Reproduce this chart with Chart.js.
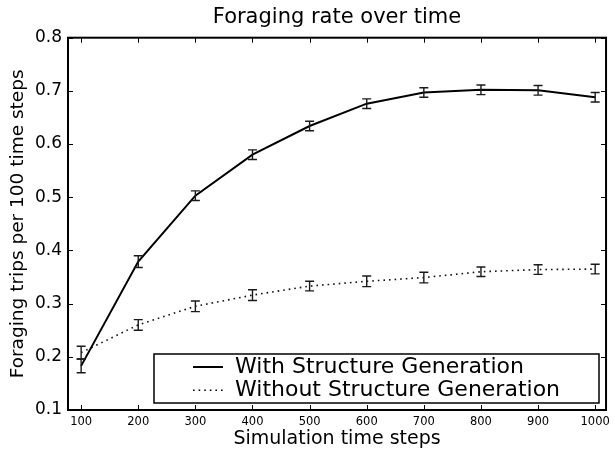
<!DOCTYPE html>
<html>
<head>
<meta charset="utf-8">
<script src="https://cdn.jsdelivr.net/npm/chart.js@4/dist/chart.umd.min.js"></script>
<style>
html,body{margin:0;padding:0;background:#fff;}
#c{display:block;}
</style>
</head>
<body>
<canvas id="c" width="615" height="454"></canvas>
<script>
const timeSteps = [100, 200, 300, 400, 500, 600, 700, 800, 900, 1000];
const withStructure = [0.183, 0.379, 0.503, 0.580, 0.634, 0.676, 0.697, 0.702, 0.701, 0.688];
const withStructureErr = [0.013, 0.011, 0.009, 0.009, 0.009, 0.009, 0.009, 0.009, 0.009, 0.009];
const withoutStructure = [0.208, 0.260, 0.295, 0.316, 0.333, 0.342, 0.349, 0.360, 0.364, 0.365];
const withoutStructureErr = [0.012, 0.010, 0.010, 0.010, 0.009, 0.010, 0.010, 0.009, 0.009, 0.009];
const xTicks = [100, 200, 300, 400, 500, 600, 700, 800, 900, 1000];
const yTicks = [0.1, 0.2, 0.3, 0.4, 0.5, 0.6, 0.7, 0.8];
const seriesLabels = ['With Structure Generation', 'Without Structure Generation'];
const chartTitle = 'Foraging rate over time';
const xTitle = 'Simulation time steps';
const yTitle = 'Foraging trips per 100 time steps';

const FONT = 'DejaVu Sans';

const errorBars = {
  id: 'errorBars',
  afterDatasetsDraw(chart) {
    const ctx = chart.ctx;
    const xs = chart.scales.x, ys = chart.scales.y;
    ctx.save();
    ctx.strokeStyle = '#1a1a1a';
    ctx.lineWidth = 1.4;
    chart.data.datasets.forEach(ds => {
      ds.data.forEach((p, i) => {
        const e = ds.errors[i];
        const x = xs.getPixelForValue(p.x);
        const y1 = ys.getPixelForValue(p.y + e);
        const y2 = ys.getPixelForValue(p.y - e);
        ctx.beginPath();
        ctx.moveTo(x, y1); ctx.lineTo(x, y2);
        ctx.moveTo(x - 4.5, y1); ctx.lineTo(x + 4.5, y1);
        ctx.moveTo(x - 4.5, y2); ctx.lineTo(x + 4.5, y2);
        ctx.stroke();
      });
    });
    ctx.restore();
  }
};

const frameAndTicks = {
  id: 'frameAndTicks',
  afterDraw(chart) {
    const ctx = chart.ctx;
    const a = chart.chartArea;
    const xs = chart.scales.x, ys = chart.scales.y;
    ctx.save();
    ctx.strokeStyle = '#000';
    ctx.lineWidth = 1;
    ctx.beginPath();
    xs.ticks.forEach(t => {
      const x = Math.round(xs.getPixelForValue(t.value)) + 0.5;
      ctx.moveTo(x, a.bottom); ctx.lineTo(x, a.bottom - 5);
      ctx.moveTo(x, a.top); ctx.lineTo(x, a.top + 5);
    });
    ys.ticks.forEach(t => {
      const y = Math.round(ys.getPixelForValue(t.value)) + 0.5;
      ctx.moveTo(a.left, y); ctx.lineTo(a.left + 5, y);
      ctx.moveTo(a.right, y); ctx.lineTo(a.right - 5, y);
    });
    ctx.stroke();
    ctx.lineWidth = 2;
    ctx.strokeRect(a.left, a.top, a.right - a.left, a.bottom - a.top);

    // legend
    const bx = a.left + 86, by = a.bottom - 56, bw = 445, bh = 49;
    ctx.fillStyle = '#fff';
    ctx.fillRect(bx, by, bw, bh);
    ctx.lineWidth = 1.5;
    ctx.strokeStyle = '#000';
    ctx.strokeRect(bx, by, bw, bh);
    ctx.font = '22px "' + FONT + '"';
    ctx.textBaseline = 'middle';
    ctx.fillStyle = '#000';
    chart.data.datasets.forEach((ds, i) => {
      const cy = by + 13 + i * 23.3;
      ctx.save();
      ctx.lineWidth = ds.borderWidth;
      ctx.setLineDash(ds.borderDash || []);
      ctx.beginPath();
      ctx.moveTo(bx + 39, cy); ctx.lineTo(bx + 69, cy);
      ctx.stroke();
      ctx.restore();
      ctx.fillText(ds.label, bx + 81, cy);
    });
    ctx.restore();
  }
};

const toPts = (vals) => vals.map((v, i) => ({ x: timeSteps[i], y: v }));

new Chart(document.getElementById('c'), {
  type: 'line',
  data: {
    datasets: [
      {
        label: seriesLabels[0],
        data: toPts(withStructure),
        errors: withStructureErr,
        borderColor: '#000',
        borderWidth: 2,
        pointRadius: 0,
        tension: 0,
        fill: false
      },
      {
        label: seriesLabels[1],
        data: toPts(withoutStructure),
        errors: withoutStructureErr,
        borderColor: '#111',
        borderWidth: 1.6,
        borderDash: [1.6, 4],
        pointRadius: 0,
        tension: 0,
        fill: false
      }
    ]
  },
  options: {
    responsive: false,
    devicePixelRatio: 1,
    animation: false,
    events: [],
    layout: { padding: { left: 0, right: 6, top: 0, bottom: 0 } },
    plugins: {
      legend: { display: false },
      tooltip: { enabled: false },
      title: {
        display: true,
        text: chartTitle,
        fullSize: false,
        color: '#000',
        font: { family: FONT, size: 21, weight: 'normal', lineHeight: 1.2 },
        padding: { top: 5, bottom: 7.5 }
      }
    },
    scales: {
      x: {
        type: 'linear',
        min: 77,
        max: 1019,
        afterBuildTicks: s => { s.ticks = xTicks.map(v => ({ value: v })); },
        afterFit: s => { s.height = 44; },
        grid: { display: false, drawTicks: false },
        border: { display: false },
        ticks: {
          color: '#000',
          padding: 5,
          maxRotation: 0,
          autoSkip: false,
          font: { family: FONT, size: 11.5 },
          callback: v => String(v)
        },
        title: {
          display: true,
          text: xTitle,
          color: '#000',
          font: { family: FONT, size: 19, lineHeight: 1.2 },
          padding: { top: 0, bottom: 4 }
        }
      },
      y: {
        type: 'linear',
        min: 0.1,
        max: 0.8,
        afterBuildTicks: s => { s.ticks = yTicks.map(v => ({ value: v })); },
        afterFit: s => { s.width = 68; },
        grid: { display: false, drawTicks: false },
        border: { display: false },
        ticks: {
          color: '#000',
          padding: 6,
          autoSkip: false,
          font: { family: FONT, size: 17 },
          callback: v => Number(v).toFixed(1)
        },
        title: {
          display: true,
          text: yTitle,
          color: '#000',
          font: { family: FONT, size: 18.5, lineHeight: 1.2 },
          padding: { top: 7, bottom: 0 }
        }
      }
    }
  },
  plugins: [errorBars, frameAndTicks]
});
</script>
</body>
</html>
